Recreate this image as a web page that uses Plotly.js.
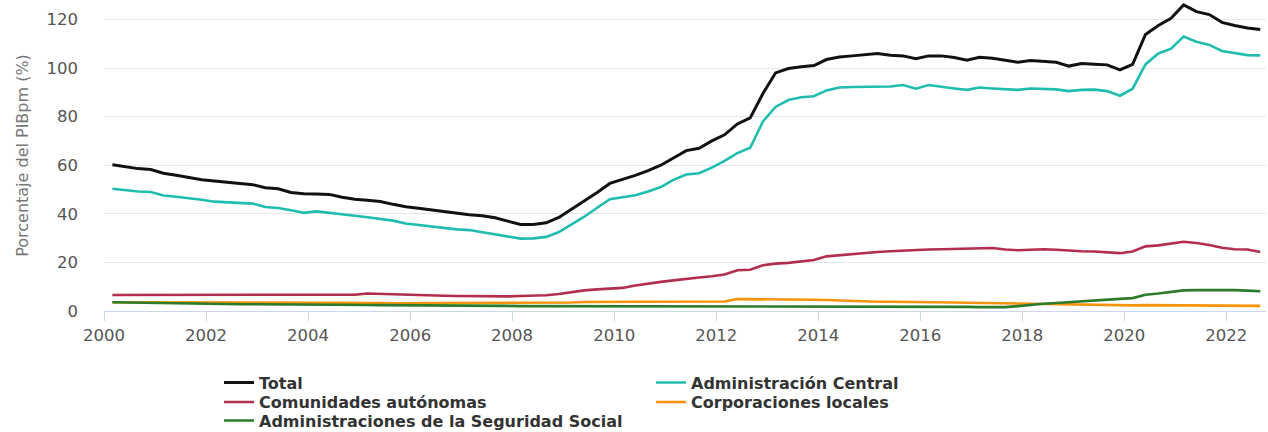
<!DOCTYPE html>
<html>
<head>
<meta charset="utf-8">
<script src="https://cdn.plot.ly/plotly-3.0.1.min.js"></script>
<style>
html,body{margin:0;padding:0;background:#fff;}
#chart{width:1268px;height:432px;}
</style>
</head>
<body>
<div id="chart"></div>
<script>
// Quarterly dates 2000Q1 .. 2022Q3
const quarters = [];
for (let y = 2000; y <= 2022; y++) {
  for (const m of ["03", "06", "09", "12"]) {
    if (y === 2022 && m === "12") continue;
    quarters.push(y + "-" + m + "-01");
  }
}

const seriesNames = ["Total", "Administración Central", "Comunidades autónomas", "Corporaciones locales", "Administraciones de la Seguridad Social"];

const total = [
  60.2, 59.3, 58.6, 58.2,
  56.7, 55.9, 55.0, 54.0,
  53.5, 53.0, 52.6, 52.0,
  50.7, 50.3, 48.8, 48.3,
  48.2, 48.0, 46.8, 46.0,
  45.6, 45.1, 43.9, 42.9,
  42.3, 41.6, 41.0, 40.0,
  39.6, 39.2, 38.4, 37.0,
  35.6, 35.6, 36.3, 38.5,
  41.8, 45.3, 48.8, 52.5,
  54.0, 55.8, 57.8, 60.0,
  63.0, 66.0, 67.0, 70.0,
  72.5, 77.0, 79.5, 89.5,
  98.0, 99.8, 100.5, 101.0,
  103.5, 104.5, 105.0, 105.5,
  106.0, 105.3, 105.0, 103.8,
  105.0, 105.0, 104.3, 103.2,
  104.4, 104.0, 103.3, 102.4,
  103.1, 102.6, 102.4, 100.8,
  101.9, 101.6, 101.3, 99.2,
  101.5, 113.8, 117.5, 120.5,
  126.0, 123.2, 122.0, 118.8,
  117.5, 116.5, 115.9
];

const central = [
  50.3, 49.6, 49.2, 49.0,
  47.5, 47.0, 46.5, 45.8,
  45.0, 44.8, 44.6, 44.2,
  42.8, 42.4, 41.5, 40.4,
  41.0, 40.5, 39.7, 39.2,
  38.6, 37.9, 37.2, 36.0,
  35.4, 34.8, 34.0, 33.6,
  33.3, 32.5, 31.6, 30.6,
  29.8, 29.9, 30.5, 32.5,
  35.5, 38.8, 42.5, 46.0,
  46.8, 47.6, 49.2, 51.0,
  54.0, 56.2, 56.7, 59.0,
  61.8, 65.0, 67.2, 78.0,
  84.0, 86.8, 88.0, 88.4,
  90.8, 92.0, 92.2, 92.2,
  92.2, 92.4, 93.0, 91.5,
  93.0, 92.2, 91.6, 91.0,
  92.0, 91.6, 91.2, 91.0,
  91.6, 91.3, 91.2, 90.5,
  91.0, 91.1, 90.5, 88.6,
  91.5, 101.5, 106.0, 108.0,
  113.0, 110.8, 109.5, 107.0,
  106.2, 105.3, 105.2
];

const comunidades = [
  6.6, 6.6, 6.6, 6.5,
  6.5, 6.5, 6.6, 6.6,
  6.6, 6.5, 6.6, 6.6,
  6.6, 6.7, 6.7, 6.7,
  6.7, 6.6, 6.5, 6.7,
  7.2, 7.0, 6.8, 6.7,
  6.6, 6.5, 6.3, 6.2,
  6.1, 6.0, 5.9, 6.0,
  6.2, 6.3, 6.5, 7.0,
  7.8, 8.5, 8.9, 9.2,
  9.5, 10.5, 11.4, 12.0,
  12.6, 13.3, 13.8, 14.3,
  15.0, 16.8, 17.0, 18.8,
  19.5, 19.8, 20.3, 21.0,
  22.5, 23.0, 23.4, 23.9,
  24.3, 24.6, 24.9, 25.0,
  25.3, 25.4, 25.6, 25.8,
  26.0, 25.9, 25.3, 25.0,
  25.2, 25.4, 25.2, 24.8,
  24.6, 24.5, 24.2, 23.8,
  24.5, 26.6, 27.0, 27.6,
  28.5, 28.0, 27.2, 26.0,
  25.4, 25.3, 24.3
];

const corporaciones = [
  3.6, 3.6, 3.5, 3.5,
  3.5, 3.4, 3.4, 3.4,
  3.4, 3.4, 3.3, 3.3,
  3.3, 3.3, 3.3, 3.3,
  3.3, 3.3, 3.3, 3.3,
  3.3, 3.3, 3.2, 3.2,
  3.2, 3.2, 3.3, 3.3,
  3.3, 3.3, 3.3, 3.3,
  3.2, 3.2, 3.2, 3.3,
  3.5, 3.7, 3.8, 3.8,
  3.8, 3.8, 3.8, 3.8,
  3.8, 3.8, 3.8, 3.8,
  3.9, 4.9, 4.9, 4.9,
  4.9, 4.8, 4.7, 4.6,
  4.5, 4.3, 4.0, 3.9,
  3.8, 3.8, 3.8, 3.7,
  3.7, 3.6, 3.5, 3.4,
  3.3, 3.2, 3.1, 3.1,
  3.0, 2.9, 2.8, 2.7,
  2.6, 2.5, 2.4, 2.3,
  2.3, 2.4, 2.4, 2.3,
  2.3, 2.2, 2.2, 2.2,
  2.1, 2.1, 2.1
];

const seguridadSocial = [
  3.6, 3.5, 3.4, 3.3,
  3.2, 3.1, 3.0, 3.0,
  2.9, 2.9, 2.8, 2.8,
  2.8, 2.7, 2.7, 2.6,
  2.6, 2.6, 2.5, 2.5,
  2.5, 2.4, 2.4, 2.4,
  2.3, 2.3, 2.2, 2.2,
  2.2, 2.1, 2.1, 2.1,
  2.0, 2.0, 1.9, 1.9,
  1.9, 1.9, 1.9, 1.9,
  1.9, 1.9, 1.9, 1.9,
  1.9, 1.9, 1.9, 1.9,
  1.9, 1.9, 1.9, 1.9,
  1.9, 1.9, 1.9, 1.9,
  1.9, 1.9, 1.9, 1.9,
  1.9, 1.9, 1.8, 1.8,
  1.8, 1.8, 1.7, 1.7,
  1.6, 1.5, 1.6, 2.0,
  2.6, 3.0, 3.3, 3.7,
  4.0, 4.4, 4.8, 5.0,
  5.3, 6.7, 7.2, 8.0,
  8.5, 8.6, 8.7, 8.7,
  8.6, 8.4, 8.1
];

const yTickVals = [0, 20, 40, 60, 80, 100, 120];
const xTickVals = ["2000-01-01","2002-01-01","2004-01-01","2006-01-01","2008-01-01","2010-01-01","2012-01-01","2014-01-01","2016-01-01","2018-01-01","2020-01-01","2022-01-01"];
const xTickText = ["2000","2002","2004","2006","2008","2010","2012","2014","2016","2018","2020","2022"];

const allSeries = [total, central, comunidades, corporaciones, seguridadSocial];
const colors = ["#111111", "#1fbcb0", "#b32d4e", "#f7930a", "#2b7b2b"];
const widths = [3, 2.6, 2.6, 2.6, 2.6];
const legendRows = ["legend", "legend", "legend2", "legend2", "legend3"];

const traces = allSeries.map((vals, i) => ({
  type: "scatter",
  mode: "lines",
  name: seriesNames[i],
  x: quarters,
  y: vals,
  legend: legendRows[i],
  line: { color: colors[i], width: widths[i] },
  hoverinfo: "x+y+name"
}));

const legendFont = { family: "DejaVu Sans, sans-serif", size: 16, color: "#333333", weight: "bold" };
function legendRow(yc) {
  return {
    orientation: "h",
    xref: "paper",
    x: 0.099,
    xanchor: "left",
    yref: "container",
    y: yc,
    yanchor: "top",
    entrywidth: 387,
    entrywidthmode: "pixels",
    font: legendFont,
    bgcolor: "rgba(0,0,0,0)",
    traceorder: "normal"
  };
}

const layout = {
  width: 1268,
  height: 432,
  margin: { l: 104, r: 2, t: 0, b: 121 },
  paper_bgcolor: "#ffffff",
  plot_bgcolor: "#ffffff",
  font: { family: "DejaVu Sans, sans-serif", color: "#555555" },
  showlegend: true,
  xaxis: {
    type: "date",
    range: ["2000-01-01", "2022-10-12"],
    tickvals: xTickVals,
    ticktext: xTickText,
    showgrid: false,
    zeroline: false,
    showline: true,
    linecolor: "#ccd6eb",
    linewidth: 1,
    ticks: "outside",
    ticklen: 9,
    tickcolor: "#ccd6eb",
    tickfont: { size: 16.5, color: "#555555" }
  },
  yaxis: {
    range: [0, 128],
    tickvals: yTickVals,
    showgrid: true,
    gridcolor: "#e6e6e6",
    gridwidth: 1,
    zeroline: false,
    showline: false,
    ticks: "",
    ticklabelstandoff: 25,
    tickfont: { size: 16.5, color: "#555555" },
    title: { text: "Porcentaje del PIBpm (%)", font: { size: 16, color: "#777777" }, standoff: 13 }
  },
  legend: legendRow(0.1537),
  legend2: legendRow(0.1085),
  legend3: legendRow(0.0657)
};

Plotly.newPlot("chart", traces, layout, { staticPlot: true, displayModeBar: false });
</script>
</body>
</html>
